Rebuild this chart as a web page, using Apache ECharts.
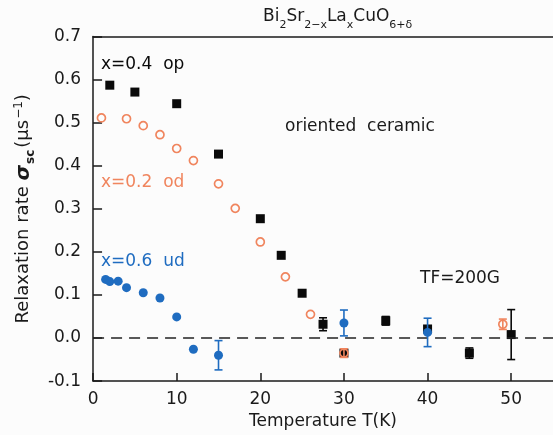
<!DOCTYPE html>
<html>
<head>
<meta charset="utf-8">
<script src="https://cdn.jsdelivr.net/npm/echarts@6/dist/echarts.min.js"></script>
<style>
  html, body { margin: 0; padding: 0; background: #fcfcfc; }
  #chart { width: 553px; height: 435px; }
</style>
</head>
<body>
<div id="chart"></div>
<script>
// x = 0.4, optimally doped (black squares)
const tempOp  = [2, 5, 10, 15, 20, 22.5, 25, 27.5, 30, 35, 40, 45, 50];
const sigmaOp = [0.587, 0.571, 0.544, 0.427, 0.277, 0.192, 0.104, 0.032, -0.035, 0.040, 0.021, -0.035, 0.008];
const errOp   = [0, 0, 0, 0, 0, 0, 0, 0.015, 0, 0.010, 0, 0.012, 0.058];

// x = 0.2, overdoped (open orange circles)
const tempOd  = [1, 4, 6, 8, 10, 12, 15, 17, 20, 23, 26, 30, 49];
const sigmaOd = [0.511, 0.509, 0.493, 0.472, 0.440, 0.412, 0.358, 0.301, 0.223, 0.142, 0.055, -0.035, 0.032];
const errOd   = [0, 0, 0, 0, 0, 0, 0, 0, 0, 0, 0, 0.010, 0.012];

// x = 0.6, underdoped (filled blue circles)
const tempUd  = [1.5, 2, 3, 4, 6, 8, 10, 12, 15, 30, 40];
const sigmaUd = [0.136, 0.131, 0.132, 0.117, 0.105, 0.093, 0.049, -0.026, -0.040, 0.035, 0.013];
const errUd   = [0, 0, 0, 0, 0, 0, 0, 0, 0.034, 0.030, 0.033];

const xTicks = [0, 10, 20, 30, 40, 50];
const yTicks = [-0.1, 0.0, 0.1, 0.2, 0.3, 0.4, 0.5, 0.6, 0.7];

const BLACK = '#0a0a0a';
const ORANGE = '#f0855e';
const BLUE = '#1f6cc0';
const FONT = 'DejaVu Sans';

function pairs(xs, ys) { return xs.map((x, i) => [x, ys[i]]); }
function errRows(xs, ys, es) {
  const out = [];
  xs.forEach((x, i) => { if (es[i] > 0) out.push([x, ys[i] - es[i], ys[i] + es[i]]); });
  return out;
}
function errorSeries(rows, color, z) {
  return {
    type: 'custom',
    data: rows,
    z: z,
    silent: true,
    renderItem: function (params, api) {
      const x = api.value(0);
      const lo = api.coord([x, api.value(1)]);
      const hi = api.coord([x, api.value(2)]);
      const cap = 4;
      const st = { stroke: color, lineWidth: 1.6 };
      return {
        type: 'group',
        children: [
          { type: 'line', shape: { x1: lo[0], y1: lo[1], x2: hi[0], y2: hi[1] }, style: st },
          { type: 'line', shape: { x1: lo[0] - cap, y1: lo[1], x2: lo[0] + cap, y2: lo[1] }, style: st },
          { type: 'line', shape: { x1: hi[0] - cap, y1: hi[1], x2: hi[0] + cap, y2: hi[1] }, style: st }
        ]
      };
    }
  };
}

const chart = echarts.init(document.getElementById('chart'), null, { renderer: 'canvas' });

const axisLineStyle = { color: '#1a1a1a', width: 1.5 };
const tickLabel = { color: '#1a1a1a', fontSize: 17, fontFamily: FONT };

chart.setOption({
  backgroundColor: '#fcfcfc',
  animation: false,
  textStyle: { fontFamily: FONT },
  grid: { left: 92, top: 36.5, right: -4, bottom: 52, containLabel: false },
  xAxis: [{
    type: 'value', min: 0, max: 55, interval: 10,
    name: 'Temperature T(K)', nameLocation: 'middle', nameGap: 30,
    nameTextStyle: { color: '#1a1a1a', fontSize: 17, fontFamily: FONT },
    axisLine: { onZero: false, lineStyle: axisLineStyle },
    axisTick: { inside: true, length: 8, lineStyle: axisLineStyle },
    axisLabel: { ...tickLabel, margin: 10, showMaxLabel: false,
      formatter: v => xTicks.includes(v) ? String(v) : '' },
    splitLine: { show: false }
  }, {
    type: 'value', position: 'top', min: 0, max: 55,
    axisLine: { show: true, onZero: false, lineStyle: axisLineStyle },
    axisTick: { show: false }, axisLabel: { show: false }, splitLine: { show: false }
  }],
  yAxis: {
    type: 'value', min: -0.1, max: 0.7, interval: 0.1,
    name: '{n|Relaxation rate }{s|σ}{sub|sc}{n|(μs}{sup|−1}{n|)}',
    nameLocation: 'middle', nameGap: 56, nameRotate: 90,
    nameTextStyle: {
      color: '#1a1a1a', fontFamily: FONT,
      rich: {
        n: { fontSize: 18, lineHeight: 21, padding: [6, 0, 0, 0], verticalAlign: 'top', color: '#1a1a1a', fontFamily: FONT },
        s: { fontSize: 20, lineHeight: 21, padding: [6, 0, 0, 0], verticalAlign: 'top', fontWeight: 'bold', fontStyle: 'italic', color: '#1a1a1a', fontFamily: FONT },
        sub: { fontSize: 12, lineHeight: 12, padding: [17, 2, 0, 1], verticalAlign: 'top', fontWeight: 'bold', color: '#1a1a1a', fontFamily: FONT },
        sup: { fontSize: 12, lineHeight: 12, padding: [5, 0, 0, 1], verticalAlign: 'top', color: '#1a1a1a', fontFamily: FONT }
      }
    },
    axisLine: { onZero: false, lineStyle: axisLineStyle },
    axisTick: { inside: true, length: 9, lineStyle: axisLineStyle },
    axisLabel: { ...tickLabel, margin: 12,
      formatter: v => yTicks.some(t => Math.abs(t - v) < 1e-9) ? v.toFixed(1) : '' },
    splitLine: { show: false }
  },
  graphic: [
    {
      type: 'text', left: 263, top: 8, z: 10,
      style: {
        text: '{m|Bi}{b|2}{m|Sr}{b|2−x}{m|La}{b|x}{m|CuO}{b|6+δ}',
        fill: '#1a1a1a', fontFamily: FONT,
        rich: {
          m: { fontSize: 17, lineHeight: 19, verticalAlign: 'top', fontFamily: FONT, fill: '#1a1a1a' },
          b: { fontSize: 11, lineHeight: 11, padding: [12, 0, 0, 0], verticalAlign: 'top', fontFamily: FONT, fill: '#1a1a1a' }
        }
      }
    },
    { type: 'text', left: 101, top: 56, z: 10, style: { text: 'x=0.4  op', fill: BLACK, fontSize: 17, fontFamily: FONT } },
    { type: 'text', left: 101, top: 174, z: 10, style: { text: 'x=0.2  od', fill: ORANGE, fontSize: 17, fontFamily: FONT } },
    { type: 'text', left: 101, top: 253, z: 10, style: { text: 'x=0.6  ud', fill: BLUE, fontSize: 17, fontFamily: FONT } },
    { type: 'text', left: 285, top: 118, z: 10, style: { text: 'oriented  ceramic', fill: '#1a1a1a', fontSize: 17, fontFamily: FONT } },
    { type: 'text', left: 420, top: 270, z: 10, style: { text: 'TF=200G', fill: '#1a1a1a', fontSize: 17, fontFamily: FONT } }
  ],
  series: [
    errorSeries(errRows(tempOp, sigmaOp, errOp), BLACK, 2),
    {
      type: 'scatter', name: 'x=0.4 op', data: pairs(tempOp, sigmaOp), z: 3,
      symbol: 'rect', symbolSize: 9,
      itemStyle: { color: BLACK, opacity: 1 },
      markLine: {
        silent: true, symbol: 'none', label: { show: false },
        lineStyle: { color: '#222', width: 1.6, type: [11, 7] },
        data: [{ yAxis: 0 }]
      }
    },
    errorSeries(errRows(tempOd, sigmaOd, errOd), ORANGE, 4),
    {
      type: 'scatter', name: 'x=0.2 od', data: pairs(tempOd, sigmaOd), z: 5,
      symbol: 'circle', symbolSize: 8,
      itemStyle: { color: 'rgba(0,0,0,0)', borderColor: ORANGE, borderWidth: 1.7, opacity: 1 }
    },
    errorSeries(errRows(tempUd, sigmaUd, errUd), BLUE, 6),
    {
      type: 'scatter', name: 'x=0.6 ud', data: pairs(tempUd, sigmaUd), z: 7,
      symbol: 'circle', symbolSize: 9,
      itemStyle: { color: BLUE, opacity: 1 }
    }
  ]
});
</script>
</body>
</html>
